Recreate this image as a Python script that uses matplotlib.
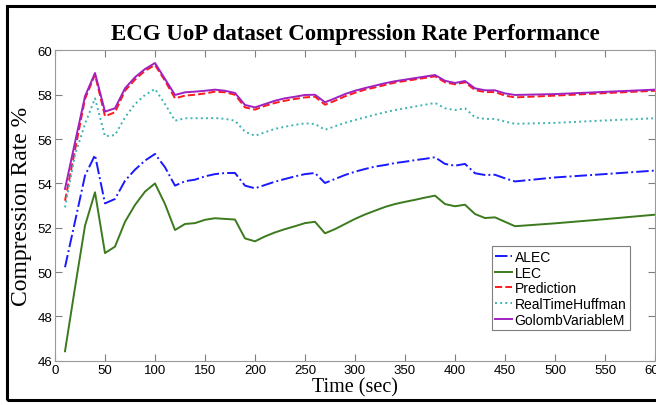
import numpy as np
import matplotlib.pyplot as plt
from matplotlib.patches import Rectangle

# Time base (sec)
time_sec = [10, 20, 30, 40, 50, 60, 70, 80, 90, 100,
            110, 120, 130, 140, 150, 160, 170, 180, 190, 200,
            210, 220, 230, 240, 250, 260, 270, 280, 290, 300,
            310, 320, 330, 340, 350, 360, 370, 380, 390, 400,
            410, 420, 430, 440, 450, 460, 500, 540, 600]

alec = [50.22, 52.28, 54.35, 55.28, 53.10, 53.30, 54.12, 54.62, 55.03, 55.33,
        54.73, 53.90, 54.10, 54.17, 54.32, 54.42, 54.47, 54.47, 53.90, 53.78,
        53.93, 54.08, 54.20, 54.32, 54.42, 54.47, 54.02, 54.20, 54.38, 54.53,
        54.65, 54.76, 54.83, 54.92, 54.98, 55.05, 55.11, 55.18, 54.88, 54.80,
        54.88, 54.46, 54.38, 54.39, 54.23, 54.09, 54.27, 54.39, 54.58]

lec = [46.43, 49.30, 52.09, 53.60, 50.86, 51.15, 52.27, 53.03, 53.63, 54.00,
       53.07, 51.90, 52.17, 52.21, 52.36, 52.43, 52.40, 52.37, 51.52, 51.39,
       51.61, 51.79, 51.94, 52.07, 52.21, 52.27, 51.75, 51.94, 52.17, 52.40,
       52.60, 52.77, 52.94, 53.07, 53.17, 53.26, 53.36, 53.45, 53.07, 52.97,
       53.04, 52.62, 52.44, 52.47, 52.27, 52.07, 52.20, 52.35, 52.59]

prediction = [53.22, 55.50, 57.81, 58.90, 57.03, 57.21, 58.18, 58.68, 59.08, 59.34,
              58.63, 57.84, 57.96, 58.00, 58.06, 58.14, 58.11, 58.00, 57.43, 57.33,
              57.50, 57.63, 57.73, 57.81, 57.88, 57.91, 57.55, 57.73, 57.93, 58.09,
              58.23, 58.33, 58.44, 58.55, 58.62, 58.69, 58.76, 58.83, 58.56, 58.47,
              58.56, 58.21, 58.12, 58.12, 57.96, 57.88, 57.96, 58.05, 58.18]

huffman = [52.92, 55.30, 56.68, 57.84, 56.13, 56.18, 56.98, 57.58, 57.99, 58.26,
           57.58, 56.83, 56.94, 56.94, 56.94, 56.95, 56.91, 56.83, 56.33, 56.15,
           56.31, 56.46, 56.56, 56.64, 56.71, 56.68, 56.42, 56.58, 56.73, 56.86,
           56.98, 57.10, 57.21, 57.31, 57.39, 57.47, 57.55, 57.63, 57.39, 57.31,
           57.39, 56.98, 56.91, 56.91, 56.79, 56.69, 56.73, 56.82, 56.94]

golomb = [53.75, 55.85, 57.93, 58.98, 57.24, 57.39, 58.29, 58.79, 59.16, 59.43,
          58.71, 57.99, 58.11, 58.14, 58.18, 58.23, 58.18, 58.08, 57.54, 57.43,
          57.58, 57.73, 57.84, 57.91, 57.99, 58.00, 57.66, 57.84, 58.03, 58.18,
          58.30, 58.41, 58.52, 58.61, 58.68, 58.75, 58.82, 58.89, 58.63, 58.53,
          58.62, 58.29, 58.20, 58.20, 58.06, 57.99, 58.03, 58.11, 58.23]

plt.rcParams['font.family'] = ['Liberation Sans', 'DejaVu Sans']

fig = plt.figure(figsize=(6.56, 4.06), dpi=100)
ax = fig.add_axes([55 / 656, 1 - 361.8 / 406, 600 / 656, (361.8 - 51.4) / 406])

ax.plot(time_sec, alec, color='#1a1aff', linestyle='-.', linewidth=1.4, label='ALEC')
ax.plot(time_sec, lec, color='#3c7a1e', linestyle='-', linewidth=1.4, label='LEC')
ax.plot(time_sec, prediction, color='#ff1a1a', linestyle='--', linewidth=1.4, label='Prediction')
ax.plot(time_sec, huffman, color='#3fb3b3', linestyle=':', linewidth=1.4, label='RealTimeHuffman')
ax.plot(time_sec, golomb, color='#a020c0', linestyle='-', linewidth=1.4, label='GolombVariableM')

ax.set_xlim(0, 600)
ax.set_ylim(46, 60)
ax.set_xticks(np.arange(0, 601, 50))
ax.set_yticks(np.arange(46, 61, 2))
ax.tick_params(direction='in', top=True, right=True, length=5, width=0.8,
               color='#7f7f7f', labelsize=9.5, pad=2)
for s in ax.spines.values():
    s.set_color('#9a9a9a')
    s.set_linewidth(0.8)

ax.set_title('ECG UoP dataset Compression Rate Performance', fontsize=16.5,
             fontweight='bold', family='Liberation Serif', pad=8)
ax.set_xlabel('Time (sec)', fontsize=14.5, family='Liberation Serif', labelpad=1)
ax.set_ylabel('Compression Rate %', fontsize=17, family='Liberation Serif', labelpad=4)

leg = ax.legend(loc='lower right', bbox_to_anchor=(0.958, 0.099), fontsize=10,
                handlelength=1.25, handletextpad=0.15, borderpad=0.25,
                labelspacing=0.12, borderaxespad=0, fancybox=False, framealpha=1)
leg.get_frame().set_edgecolor('#7f7f7f')
leg.get_frame().set_linewidth(0.8)

# outer black frame
fig.patches.append(Rectangle((7 / 656, 5 / 406), 660 / 656, 394 / 406,
                             transform=fig.transFigure, fill=False,
                             edgecolor='black', linewidth=2.2))

fig.savefig('out.png', dpi=100)
